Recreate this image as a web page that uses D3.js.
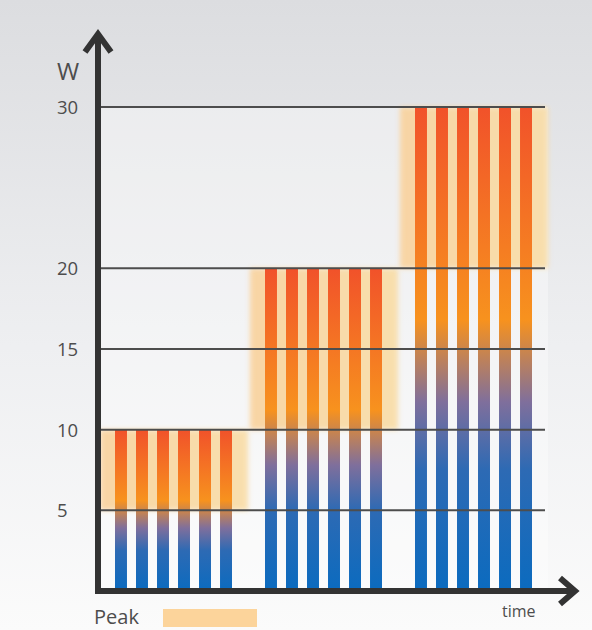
<!DOCTYPE html>
<html>
<head>
<meta charset="utf-8">
<script src="https://cdn.jsdelivr.net/npm/d3@7"></script>
<style>
  html, body { margin: 0; padding: 0; }
  svg { display: block; }
</style>
</head>
<body>
<svg id="chart" width="592" height="630"></svg>
<script>
// Power pulses per time period (W), grouped in three stages
const periods = ["P1", "P2", "P3"];
const pulseValues = [
  [10, 10, 10, 10, 10, 10],
  [20, 20, 20, 20, 20, 20],
  [30, 30, 30, 30, 30, 30]
];
// Peak range shown behind each group of pulses
const peakLow = [5, 10, 20];
const peakHigh = [10, 20, 30];
const yTicks = [5, 10, 15, 20, 30];
const yTitle = "W";
const xTitle = "time";
const legendLabel = "Peak";

const W = 592, H = 630;
const svg = d3.select("#chart");
const defs = svg.append("defs");

// page background
const bg = defs.append("linearGradient").attr("id", "bg")
  .attr("x1", 0).attr("y1", 0).attr("x2", 0).attr("y2", 1);
bg.append("stop").attr("offset", "0%").attr("stop-color", "#dcdde0");
bg.append("stop").attr("offset", "55%").attr("stop-color", "#eeeff1");
bg.append("stop").attr("offset", "100%").attr("stop-color", "#fbfbfb");
svg.append("rect").attr("width", W).attr("height", H).attr("fill", "url(#bg)");

// pulse colour: red at top, orange, purple-grey, blue at bottom
const barGrad = defs.append("linearGradient").attr("id", "barGrad")
  .attr("x1", 0).attr("y1", 0).attr("x2", 0).attr("y2", 1);
[["0%", "#f1522a"], ["44%", "#f7921e"], ["61%", "#7f6f9c"], ["75%", "#2d6ab4"], ["100%", "#0b6bbf"]]
  .forEach(([o, c]) => barGrad.append("stop").attr("offset", o).attr("stop-color", c));

// peak band: peach fading slightly toward yellow on the right
const bandGrad = defs.append("linearGradient").attr("id", "bandGrad")
  .attr("x1", 0).attr("y1", 0).attr("x2", 1).attr("y2", 0);
bandGrad.append("stop").attr("offset", "0%").attr("stop-color", "#f9d29c");
bandGrad.append("stop").attr("offset", "100%").attr("stop-color", "#f9dda6");

const blur = defs.append("filter").attr("id", "soft")
  .attr("x", "-10%").attr("y", "-10%").attr("width", "120%").attr("height", "120%");
blur.append("feGaussianBlur").attr("stdDeviation", 2.5);

const y = d3.scaleLinear().domain([0, 30]).range([591, 107]);
const x0 = d3.scaleBand().domain(periods).range([98, 548]);
const x1 = d3.scaleBand().domain(d3.range(6)).range([17, 134]).paddingInner(0.43).paddingOuter(0);

// plot area brightening
svg.append("rect").attr("x", 101).attr("y", y(30)).attr("width", 447).attr("height", y(0) - y(30))
  .attr("fill", "#ffffff").attr("opacity", 0.35);

// peak bands
svg.append("g").selectAll("rect").data(periods).join("rect")
  .attr("x", p => x0(p) + 2)
  .attr("width", x0.bandwidth() - 2)
  .attr("y", (p, i) => y(peakHigh[i]))
  .attr("height", (p, i) => y(peakLow[i]) - y(peakHigh[i]))
  .attr("fill", "url(#bandGrad)")
  .attr("opacity", 0.9)
  .attr("filter", "url(#soft)");

// pulses
const groups = svg.append("g").selectAll("g").data(periods).join("g")
  .attr("transform", p => `translate(${x0(p)},0)`);
groups.selectAll("rect").data((p, i) => pulseValues[i].map((v, j) => ({ v, j }))).join("rect")
  .attr("x", d => x1(d.j))
  .attr("width", x1.bandwidth())
  .attr("y", d => y(d.v))
  .attr("height", d => y(0) - y(d.v))
  .attr("fill", "url(#barGrad)");

// gridlines
svg.append("g").selectAll("line").data(yTicks).join("line")
  .attr("x1", 98).attr("x2", 545)
  .attr("y1", d => y(d)).attr("y2", d => y(d))
  .attr("stroke", "#4d4d4d").attr("stroke-width", 2);

// tick labels
svg.append("g").selectAll("text").data(yTicks).join("text")
  .attr("x", 57).attr("y", d => y(d) + 7)
  .attr("font-family", "Open Sans, sans-serif").attr("font-size", 18.5)
  .attr("fill", "#4d4d4d").text(d => d);

// axes with chevron arrows
const axisColor = "#333";
svg.append("line").attr("x1", 98).attr("x2", 98).attr("y1", 594).attr("y2", 34)
  .attr("stroke", axisColor).attr("stroke-width", 6);
svg.append("line").attr("x1", 95).attr("x2", 574).attr("y1", 591).attr("y2", 591)
  .attr("stroke", axisColor).attr("stroke-width", 6);
svg.append("path").attr("d", "M85,52 L98,34 L111,52")
  .attr("fill", "none").attr("stroke", axisColor).attr("stroke-width", 6)
  .attr("stroke-linejoin", "miter");
svg.append("path").attr("d", "M560,578 L575,591 L560,604")
  .attr("fill", "none").attr("stroke", axisColor).attr("stroke-width", 6)
  .attr("stroke-linejoin", "miter");

// axis titles
svg.append("text").attr("x", 57).attr("y", 80)
  .attr("font-family", "Open Sans, sans-serif").attr("font-size", 24)
  .attr("fill", "#4d4d4d").text(yTitle);
svg.append("text").attr("x", 502).attr("y", 617)
  .attr("font-family", "Open Sans, sans-serif").attr("font-size", 16)
  .attr("fill", "#4d4d4d").text(xTitle);

// legend
svg.append("text").attr("x", 94).attr("y", 624)
  .attr("font-family", "Open Sans, sans-serif").attr("font-size", 20)
  .attr("fill", "#4d4d4d").text(legendLabel);
svg.append("rect").attr("x", 163).attr("y", 609).attr("width", 94).attr("height", 18)
  .attr("fill", "#fcd49b");
</script>
</body>
</html>
